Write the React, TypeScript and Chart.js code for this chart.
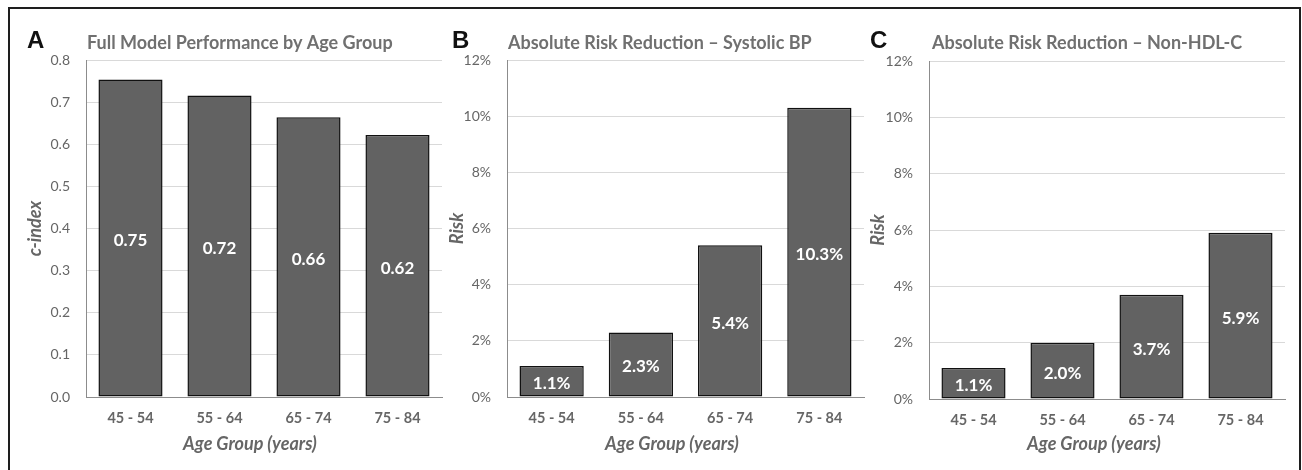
import React, { useEffect, useRef } from "react";
import { Chart, registerables } from "chart.js";

Chart.register(...registerables);

// ---- data ----
const categories = ["45 - 54", "55 - 64", "65 - 74", "75 - 84"];
const cIndexValues = [0.754, 0.716, 0.664, 0.622];
const cIndexLabels = ["0.75", "0.72", "0.66", "0.62"];
const sbpValues = [1.1, 2.3, 5.4, 10.3];
const sbpLabels = ["1.1%", "2.3%", "5.4%", "10.3%"];
const nonHdlValues = [1.1, 2.0, 3.7, 5.9];
const nonHdlLabels = ["1.1%", "2.0%", "3.7%", "5.9%"];
const cIndexTickLabels = ["0.0", "0.1", "0.2", "0.3", "0.4", "0.5", "0.6", "0.7", "0.8"];
const riskTickLabels = ["0%", "2%", "4%", "6%", "8%", "10%", "12%"];

const FONT = "Lato, 'Open Sans', sans-serif";
const GRAY = "#666666";

type Panel = {
  letter: string;
  title: string;
  yTitle: string;
  xTitle: string;
  values: number[];
  labels: string[];
  tickLabels: string[];
  max: number;
  step: number;
  canvasLeft: number;
  canvasWidth: number;
  yAxisW: number;
  padRight: number;
  top: number;
  xAxisH: number;
  letterX: number;
  titleX: number;
  yTitleX: number;
  xTitleX: number;
};

const panels: Panel[] = [
  {
    letter: "A",
    title: "Full Model Performance by Age Group",
    yTitle: "c-index",
    xTitle: "Age Group (years)",
    values: cIndexValues,
    labels: cIndexLabels,
    tickLabels: cIndexTickLabels,
    max: 0.8,
    step: 0.1,
    canvasLeft: 0,
    canvasWidth: 445,
    yAxisW: 86,
    padRight: 3,
    top: 60,
    xAxisH: 73,
    letterX: 27,
    titleX: 87,
    yTitleX: 35,
    xTitleX: 250,
  },
  {
    letter: "B",
    title: "Absolute Risk Reduction \u2013 Systolic BP",
    yTitle: "Risk",
    xTitle: "Age Group (years)",
    values: sbpValues,
    labels: sbpLabels,
    tickLabels: riskTickLabels,
    max: 12,
    step: 2,
    canvasLeft: 445,
    canvasWidth: 425,
    yAxisW: 62,
    padRight: 6,
    top: 60,
    xAxisH: 73,
    letterX: 7,
    titleX: 63,
    yTitleX: 12,
    xTitleX: 227,
  },
  {
    letter: "C",
    title: "Absolute Risk Reduction \u2013 Non-HDL-C",
    yTitle: "Risk",
    xTitle: "Age Group (years)",
    values: nonHdlValues,
    labels: nonHdlLabels,
    tickLabels: riskTickLabels,
    max: 12,
    step: 2,
    canvasLeft: 865,
    canvasWidth: 430,
    yAxisW: 64,
    padRight: 10,
    top: 61,
    xAxisH: 71,
    letterX: 5,
    titleX: 67,
    yTitleX: 13,
    xTitleX: 229,
  },
];

function makeTextPlugin(p: Panel) {
  return {
    id: "panelText" + p.letter,
    afterDraw(chart: any) {
      const ctx = chart.ctx as CanvasRenderingContext2D;
      const area = chart.chartArea;
      ctx.save();
      // panel letter
      ctx.fillStyle = "#111111";
      ctx.font = "bold 24px 'Liberation Sans', Arial, sans-serif";
      ctx.textAlign = "left";
      ctx.textBaseline = "alphabetic";
      ctx.fillText(p.letter, p.letterX, 48);
      // title
      ctx.fillStyle = "#707070";
      ctx.font = `bold 18px ${FONT}`;
      ctx.fillText(p.title, p.titleX, 49);
      // x title
      ctx.fillStyle = GRAY;
      ctx.font = `italic bold 18px ${FONT}`;
      ctx.textAlign = "center";
      ctx.textBaseline = "middle";
      ctx.fillText(p.xTitle, p.xTitleX, 444);
      // y title
      ctx.save();
      ctx.translate(p.yTitleX, (area.top + area.bottom) / 2);
      ctx.rotate(-Math.PI / 2);
      ctx.fillText(p.yTitle, 0, 0);
      ctx.restore();
      // value labels inside bars
      const meta = chart.getDatasetMeta(0);
      ctx.fillStyle = "#ffffff";
      ctx.font = `bold 17px ${FONT}`;
      ctx.textAlign = "center";
      ctx.textBaseline = "alphabetic";
      meta.data.forEach((bar: any, i: number) => {
        const mid = (bar.y + bar.base) / 2;
        ctx.fillText(p.labels[i], bar.x, mid + 8);
      });
      ctx.restore();
    },
  };
}

function PanelChart({ p }: { p: Panel }) {
  const ref = useRef<HTMLCanvasElement | null>(null);
  useEffect(() => {
    if (!ref.current) return;
    const chart = new Chart(ref.current, {
      type: "bar",
      data: {
        labels: categories,
        datasets: [
          {
            data: p.values,
            backgroundColor: "#626262",
            borderColor: "#111111",
            borderWidth: 1.5,
            borderSkipped: false,
            barPercentage: 0.72,
            categoryPercentage: 1,
          },
        ],
      },
      options: {
        animation: false,
        responsive: false,
        maintainAspectRatio: false,
        devicePixelRatio: 1,
        layout: { padding: { left: 0, right: p.padRight, top: p.top, bottom: 0 } },
        plugins: {
          legend: { display: false },
          tooltip: { enabled: false },
          title: { display: false },
        },
        scales: {
          x: {
            grid: { display: false, drawTicks: false },
            border: { display: true, color: "#8c8c8c", width: 1 },
            ticks: {
              color: GRAY,
              font: { family: FONT, weight: "bold", size: 14.5 },
              padding: 13,
              maxRotation: 0,
            },
            afterFit: (s: any) => {
              s.height = p.xAxisH;
            },
          },
          y: {
            min: 0,
            max: p.max,
            ticks: {
              stepSize: p.step,
              color: GRAY,
              font: { family: FONT, size: 14 },
              padding: 16,
              callback: (_v: any, i: number) => p.tickLabels[i],
            },
            grid: { color: "#d9d9d9", drawTicks: false, lineWidth: 1 },
            border: { display: true, color: "#8c8c8c", width: 1 },
            afterFit: (s: any) => {
              s.width = p.yAxisW;
            },
          },
        },
      },
      plugins: [makeTextPlugin(p)],
    } as any);
    return () => chart.destroy();
  }, [p]);
  return (
    <canvas
      ref={ref}
      width={p.canvasWidth}
      height={470}
      style={{
        position: "absolute",
        left: p.canvasLeft,
        top: 0,
        width: p.canvasWidth,
        height: 470,
      }}
    />
  );
}

export default function App() {
  return (
    <div
      style={{
        position: "absolute",
        left: 0,
        top: 0,
        width: 1302,
        height: 470,
        overflow: "hidden",
        background: "#ffffff",
      }}
    >
      <div
        style={{
          position: "absolute",
          left: 8,
          top: 7,
          width: 1293,
          height: 490,
          boxSizing: "border-box",
          border: "2px solid #1e1e1e",
        }}
      />
      {panels.map((p) => (
        <PanelChart key={p.letter} p={p} />
      ))}
    </div>
  );
}
